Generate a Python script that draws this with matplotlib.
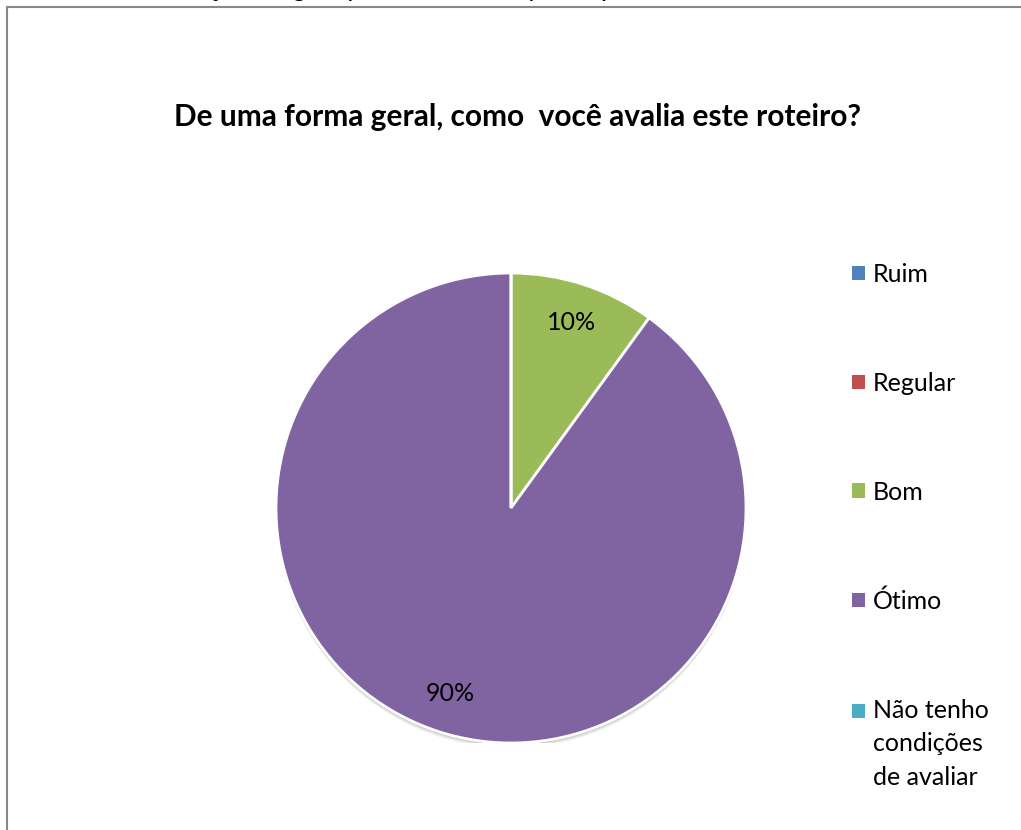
import matplotlib
matplotlib.use("Agg")
import matplotlib.pyplot as plt
from matplotlib.patches import Rectangle, Circle
from matplotlib.lines import Line2D
from matplotlib.legend_handler import HandlerPatch

categories = ["Ruim", "Regular", "Bom", "Ótimo", "Não tenho\ncondições\nde avaliar"]
values = [0, 0, 10, 90, 0]
colors = ["#4F81BD", "#C0504D", "#9BBB59", "#8064A2", "#4BACC6"]
title = "De uma forma geral, como  você avalia este roteiro?"
caption = "Gráfico 8 – Avaliação do guia pelos docentes participantes"

plt.rcParams['font.family'] = ['Lato', 'DejaVu Sans']

fig = plt.figure(figsize=(10.21, 8.30), dpi=100)
W, H = 1021, 830

# frame border
fig.add_artist(Line2D([7/W, 7/W], [0, 1 - 7/H], color="#888888", lw=1.5, transform=fig.transFigure))
fig.add_artist(Line2D([7/W, 1], [1 - 7/H, 1 - 7/H], color="#888888", lw=1.5, transform=fig.transFigure))

# caption clipped by the top edge (as in the reference)
fig.text(2/W, 1 - 1/H, caption, fontsize=19, ha="left", va="bottom")

fig.text(518/W, 1 - 117/H, title, fontsize=21.5, fontweight="bold", ha="center", va="center")

r = 235
cx, cy = 511, 508
ax = fig.add_axes([(cx - r)/W, 1 - (cy + r)/H, 2*r/W, 2*r/H])

# soft shadow under the pie
for dy, a in [(-0.022, 0.10), (-0.016, 0.15), (-0.010, 0.25)]:
    ax.add_patch(Circle((0, dy), 1.0, facecolor="#808080", edgecolor="none", alpha=a, zorder=0))

def fmt(p):
    return "" if p < 0.5 else f"{p:.0f}%"

wedges, texts, autotexts = ax.pie(values, colors=colors, startangle=90, counterclock=False,
                                  autopct=fmt, pctdistance=0.83, radius=1.0,
                                  wedgeprops=dict(edgecolor="white", linewidth=2, zorder=2),
                                  textprops=dict(fontsize=18, color="black", zorder=3))
for w in wedges:
    w.set_zorder(2)
ax.set_xlim(-1, 1)
ax.set_ylim(-1, 1)
ax.set_aspect("equal")

FS = 18
LS = 1.56
LINE_PT = 24.0

def make_patch(legend, orig_handle, xdescent, ydescent, width, height, fontsize):
    return Rectangle((-xdescent, -ydescent), width, height,
                     facecolor=orig_handle.get_facecolor(), edgecolor="none")

def make_patch_top(legend, orig_handle, xdescent, ydescent, width, height, fontsize):
    return Rectangle((-xdescent, -ydescent + LINE_PT), width, height,
                     facecolor=orig_handle.get_facecolor(), edgecolor="none")

handles = [Rectangle((0, 0), 1, 1, facecolor=c, edgecolor="none") for c in colors]
hmap = {h: HandlerPatch(patch_func=(make_patch_top if "\n" in lab else make_patch))
        for h, lab in zip(handles, categories)}
leg = fig.legend(handles, categories, loc="upper left", bbox_to_anchor=(852/W, 1 - 263/H),
                 frameon=False, fontsize=FS, handlelength=0.52, handleheight=0.52,
                 handletextpad=0.32, labelspacing=3.43, borderpad=0, borderaxespad=0,
                 handler_map=hmap)
for t in leg.get_texts():
    t.set_linespacing(LS)

fig.savefig("out.png", dpi=100)
